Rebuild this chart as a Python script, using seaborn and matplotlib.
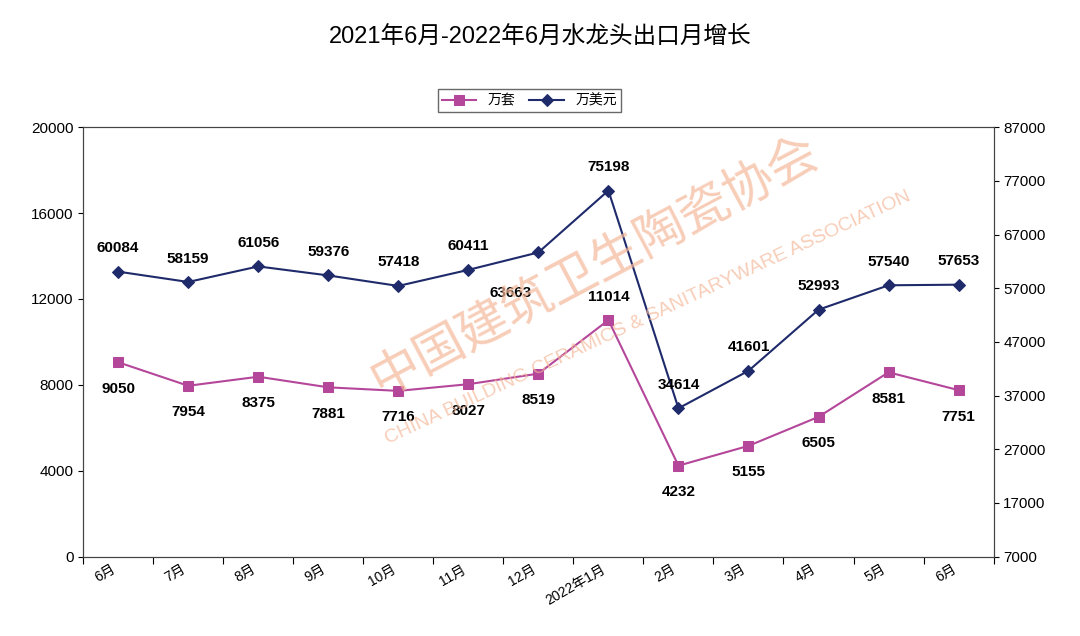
import matplotlib
matplotlib.use("Agg")
import matplotlib.pyplot as plt
import pandas as pd
import seaborn as sns

plt.rcParams["font.family"] = ["Liberation Sans", "Noto Sans CJK JP", "DejaVu Sans"]

months = ["6月", "7月", "8月", "9月", "10月", "11月", "12月", "2022年1月",
          "2月", "3月", "4月", "5月", "6月"]
sets_wan = [9050, 7954, 8375, 7881, 7716, 8027, 8519, 11014, 4232, 5155, 6505, 8581, 7751]
usd_wan = [60084, 58159, 61056, 59376, 57418, 60411, 63663, 75198, 34614, 41601, 52993, 57540, 57653]

df = pd.DataFrame({"x": range(len(months)), "sets": sets_wan, "usd": usd_wan})
c1, c2 = "#b5479b", "#1f2a6b"

fig = plt.figure(figsize=(10.8, 6.36), dpi=100)
ax = fig.add_axes([0.077, 0.125, 0.843, 0.675])
ax2 = ax.twinx()

fig.text(0.55, 0.58, "中国建筑卫生陶瓷协会", ha="center", va="center", fontsize=36,
         color="#f4b89a", alpha=0.7, rotation=28, family="Noto Sans CJK JP")
fig.text(0.6, 0.50, "CHINA BUILDING CERAMICS & SANITARYWARE ASSOCIATION", ha="center",
         va="center", fontsize=14, color="#f4b89a", alpha=0.7, rotation=25)

sns.lineplot(data=df, x="x", y="sets", ax=ax, color=c1, marker="s", markersize=7,
             markeredgecolor=c1, linewidth=1.5, label="万套", legend=False)
sns.lineplot(data=df, x="x", y="usd", ax=ax2, color=c2, marker="D", markersize=6,
             markeredgecolor=c2, linewidth=1.5, label="万美元", legend=False)

ax.set_xlim(-0.5, len(months) - 0.5)
ax.set_ylim(0, 20000)
ax.set_yticks(range(0, 20001, 4000))
ax2.set_ylim(7000, 87000)
ax2.set_yticks(range(7000, 87001, 10000))
ax.set_xticks([i - 0.5 for i in range(len(months) + 1)], minor=False)
ax.set_xticklabels([])
ax.set_xticks(range(len(months)), minor=True)
ax.set_xticklabels(months, minor=True, rotation=30, ha="right", fontsize=10)
ax.tick_params(axis="x", which="minor", length=0, pad=4)
ax.tick_params(axis="x", which="major", length=5, direction="out")
ax.set_xlabel("")
ax.set_ylabel("")
ax2.set_ylabel("")
ax.tick_params(axis="y", labelsize=11)
ax2.tick_params(axis="y", labelsize=11)
for a in (ax, ax2):
    for s in a.spines.values():
        s.set_color("#444444")

for i, v in enumerate(sets_wan):
    off = 14 if i == 7 else -22
    ax.annotate(str(v), (i, v), textcoords="offset points", xytext=(0, off),
                ha="center", fontsize=11, fontweight="bold")
for i, v in enumerate(usd_wan):
    dx, dy = (-20, -32) if i == 6 else (0, 14)
    ax2.annotate(str(v), (i, v), textcoords="offset points", xytext=(dx, dy),
                 ha="center", fontsize=11, fontweight="bold")

h1, l1 = ax.get_legend_handles_labels()
h2, l2 = ax2.get_legend_handles_labels()
fig.legend(h1 + h2, l1 + l2, loc="center", bbox_to_anchor=(0.49, 0.842), ncol=2,
           fontsize=10, frameon=True, fancybox=False, edgecolor="#444444",
           handlelength=2.5, borderpad=0.3, columnspacing=1.0)

fig.text(0.5, 0.94, "2021年6月-2022年6月水龙头出口月增长", ha="center", va="center", fontsize=17)

fig.savefig("out.png", dpi=100)
